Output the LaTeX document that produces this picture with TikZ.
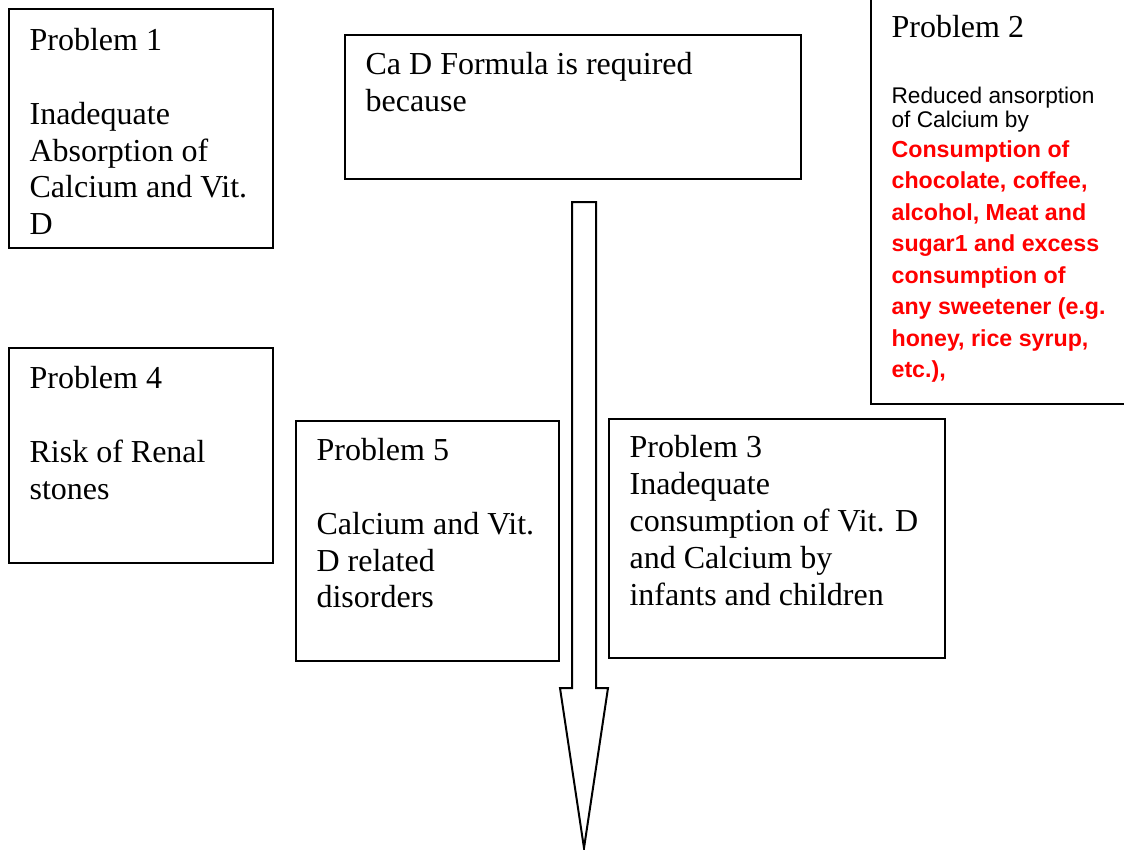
\documentclass[tikz,border=0pt]{standalone}
\usepackage{fontspec}
\setmainfont{Liberation Serif}
\newfontfamily\arialfont{Liberation Sans}
\usetikzlibrary{positioning}

\tikzset{
  probbox/.style={draw, line width=0.75pt, anchor=north west, inner sep=0pt},
  probtext/.style={align=left, inner sep=0pt, font=\fontsize{12}{13.8}\selectfont},
  smalltext/.style={align=left, inner sep=0pt, font=\arialfont\fontsize{8.5}{9}\selectfont},
  redtext/.style={align=left, inner sep=0pt, text=red, font=\arialfont\bfseries\fontsize{8.7}{11.8}\selectfont},
}

\begin{document}
\begin{tikzpicture}[x=0.375pt, y=-0.375pt]
\useasboundingbox (0,0) rectangle (1124,850);
% Boxes
\node[probbox, minimum width=99pt, minimum height=89.6pt] (p1) at (8,8) {};
\node[probbox, minimum width=171pt, minimum height=54pt] (cad) at (344,34) {};
\node[probbox, minimum width=97.5pt, minimum height=153pt] (p2) at (870,-5) {};
\node[probbox, minimum width=99pt, minimum height=80.6pt] (p4) at (8,347) {};
\node[probbox, minimum width=98.6pt, minimum height=90pt] (p5) at (295,420) {};
\node[probbox, minimum width=126pt, minimum height=89.6pt] (p3) at (608,418) {};
% Texts
\node[probtext, below right=7.5pt and 7.9pt of p1.north west] (p1txt)
  {Problem 1\\[13.8pt]Inadequate\\Absorption of\\Calcium and Vit.\\D};
\node[probtext, below right=6.75pt and 7.9pt of cad.north west] (cadtxt)
  {Ca D Formula is required\\because};
\node[probtext, below right=7.5pt and 7.9pt of p2.north west] (p2txt) {Problem 2};
\node[smalltext, below right=34.5pt and 7.9pt of p2.north west] (p2body)
  {Reduced ansorption\\of Calcium by};
\node[redtext, below right=54.4pt and 7.9pt of p2.north west] (p2red)
  {Consumption of\\chocolate, coffee,\\alcohol, Meat and\\sugar1 and excess\\consumption of\\any sweetener (e.g.\\honey, rice syrup,\\etc.),};
\node[probtext, below right=7.1pt and 7.9pt of p4.north west] (p4txt)
  {Problem 4\\[13.8pt]Risk of Renal\\stones};
\node[probtext, below right=6.75pt and 7.9pt of p5.north west] (p5txt)
  {Problem 5\\[13.8pt]Calcium and Vit.\\D related\\disorders};
\node[probtext, below right=6.4pt and 7.9pt of p3.north west] (p3txt)
  {Problem 3\\Inadequate\\consumption of Vit. D\\and Calcium by\\infants and children};
% Big down arrow
\draw[line width=0.75pt, fill=white] (572,202) -- (596,202) -- (596,688) -- (608,688)
  -- (584,848) -- (560,688) -- (572,688) -- cycle;
\end{tikzpicture}
\end{document}
